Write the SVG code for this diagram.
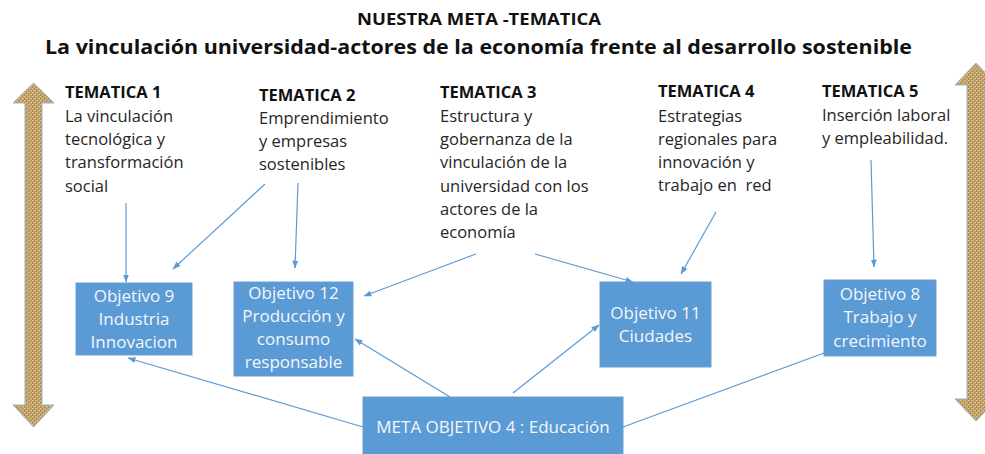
<svg xmlns="http://www.w3.org/2000/svg" width="985" height="454" viewBox="0 0 985 454">
<style>
.title{font-family:"Open Sans","Liberation Sans",sans-serif;font-weight:bold;fill:#111}
.hd{font-family:"Open Sans","Liberation Sans",sans-serif;font-weight:bold;font-size:16.5px;fill:#111}
.tx{font-family:"Open Sans","Liberation Sans",sans-serif;font-size:16.5px;fill:#262626}
.box{fill:#5B9BD5;stroke:#6a9fd0;stroke-width:1}
.bt{font-family:"Open Sans","Liberation Sans",sans-serif;font-size:17px;fill:#f4f6fa;text-anchor:middle}
.cn{stroke:#5B9BD5;stroke-width:1.2;fill:none}
.arr{fill:url(#burlap);stroke:#9db1c6;stroke-width:1}
</style>
<defs>
<pattern id="burlap" width="4" height="4" patternUnits="userSpaceOnUse">
<rect width="4" height="4" fill="#c4a46a"/>
<rect x="0" y="0" width="2" height="1" fill="#d8bf8a"/>
<rect x="2" y="2" width="2" height="1" fill="#d8bf8a"/>
<rect x="2" y="0" width="1" height="2" fill="#a98b56"/>
<rect x="0" y="2" width="1" height="2" fill="#a98b56"/>
</pattern>
<marker id="ah" markerUnits="userSpaceOnUse" markerWidth="8" markerHeight="7" refX="7.5" refY="3.5" orient="auto">
<path d="M0,0.5 L8,3.5 L0,6.5 z" fill="#5B9BD5"/>
</marker>
</defs>

<g id="titles">
<text class="title" x="479" y="25" font-size="16" text-anchor="middle" textLength="244" lengthAdjust="spacingAndGlyphs">NUESTRA META -TEMATICA</text>
<text class="title" x="45" y="54" font-size="20" textLength="867" lengthAdjust="spacingAndGlyphs">La vinculación universidad-actores de la economía frente al desarrollo sostenible</text>
</g>

<g id="arrow-left"><polygon class="arr" points="33.5,83 54,103 42,103 42,405 54,405 33.5,427 13,405 25,405 25,103 13,103"/></g>
<g id="arrow-right"><polygon class="arr" points="976,63 997,85 985,85 985,399 997,399 976,421 955,399 967,399 967,85 955,85"/></g>

<g id="tematica1">
<text class="hd" x="65" y="98">TEMATICA 1</text>
<text class="tx" x="65" y="122">La vinculación</text>
<text class="tx" x="65" y="145">tecnológica y</text>
<text class="tx" x="65" y="168">transformación</text>
<text class="tx" x="65" y="192">social</text>
</g>
<g id="tematica2">
<text class="hd" x="259" y="101">TEMATICA 2</text>
<text class="tx" x="259" y="124">Emprendimiento</text>
<text class="tx" x="259" y="147">y empresas</text>
<text class="tx" x="259" y="170">sostenibles</text>
</g>
<g id="tematica3">
<text class="hd" x="440" y="98">TEMATICA 3</text>
<text class="tx" x="440" y="122">Estructura y</text>
<text class="tx" x="440" y="145">gobernanza de la</text>
<text class="tx" x="440" y="168">vinculación de la</text>
<text class="tx" x="440" y="192">universidad con los</text>
<text class="tx" x="440" y="215">actores de la</text>
<text class="tx" x="440" y="238">economía</text>
</g>
<g id="tematica4">
<text class="hd" x="658" y="97">TEMATICA 4</text>
<text class="tx" x="658" y="122">Estrategias</text>
<text class="tx" x="658" y="145">regionales para</text>
<text class="tx" x="658" y="168">innovación y</text>
<text class="tx" x="658" y="191" xml:space="preserve">trabajo en  red</text>
</g>
<g id="tematica5">
<text class="hd" x="822" y="97">TEMATICA 5</text>
<text class="tx" x="822" y="121">Inserción laboral</text>
<text class="tx" x="822" y="144">y empleabilidad.</text>
</g>

<g id="objetivo9">
<rect class="box" x="76" y="283" width="116" height="72"/>
<text class="bt" x="134" y="302">Objetivo 9</text>
<text class="bt" x="134" y="325">Industria</text>
<text class="bt" x="134" y="348">Innovacion</text>
</g>
<g id="objetivo12">
<rect class="box" x="234" y="282" width="119" height="94"/>
<text class="bt" x="293.5" y="299">Objetivo 12</text>
<text class="bt" x="293.5" y="322">Producción y</text>
<text class="bt" x="293.5" y="345">consumo</text>
<text class="bt" x="293.5" y="368">responsable</text>
</g>
<g id="objetivo11">
<rect class="box" x="600" y="282" width="111" height="85"/>
<text class="bt" x="655.5" y="319">Objetivo 11</text>
<text class="bt" x="655.5" y="342">Ciudades</text>
</g>
<g id="objetivo8">
<rect class="box" x="824" y="280" width="112" height="76"/>
<text class="bt" x="880" y="300">Objetivo 8</text>
<text class="bt" x="880" y="323">Trabajo y</text>
<text class="bt" x="880" y="347">crecimiento</text>
</g>
<g id="meta">
<rect class="box" x="363" y="397" width="260" height="60"/>
<text class="bt" x="493" y="433">META OBJETIVO 4 : Educación</text>
</g>

<g id="connectors">
<line class="cn" x1="126" y1="203" x2="126" y2="282" marker-end="url(#ah)"/>
<line class="cn" x1="265" y1="184" x2="173" y2="269" marker-end="url(#ah)"/>
<line class="cn" x1="298" y1="183" x2="295" y2="268" marker-end="url(#ah)"/>
<line class="cn" x1="476" y1="254" x2="364" y2="296" marker-end="url(#ah)"/>
<line class="cn" x1="535" y1="254" x2="633" y2="282" marker-end="url(#ah)"/>
<line class="cn" x1="716" y1="212" x2="681" y2="274" marker-end="url(#ah)"/>
<line class="cn" x1="871" y1="160" x2="874" y2="267" marker-end="url(#ah)"/>
<line class="cn" x1="363" y1="427" x2="128" y2="358" marker-end="url(#ah)"/>
<line class="cn" x1="450" y1="397" x2="355" y2="339" marker-end="url(#ah)"/>
<line class="cn" x1="513" y1="393" x2="599" y2="325" marker-end="url(#ah)"/>
<line class="cn" x1="623" y1="427" x2="824" y2="353"/>
</g>
</svg>
